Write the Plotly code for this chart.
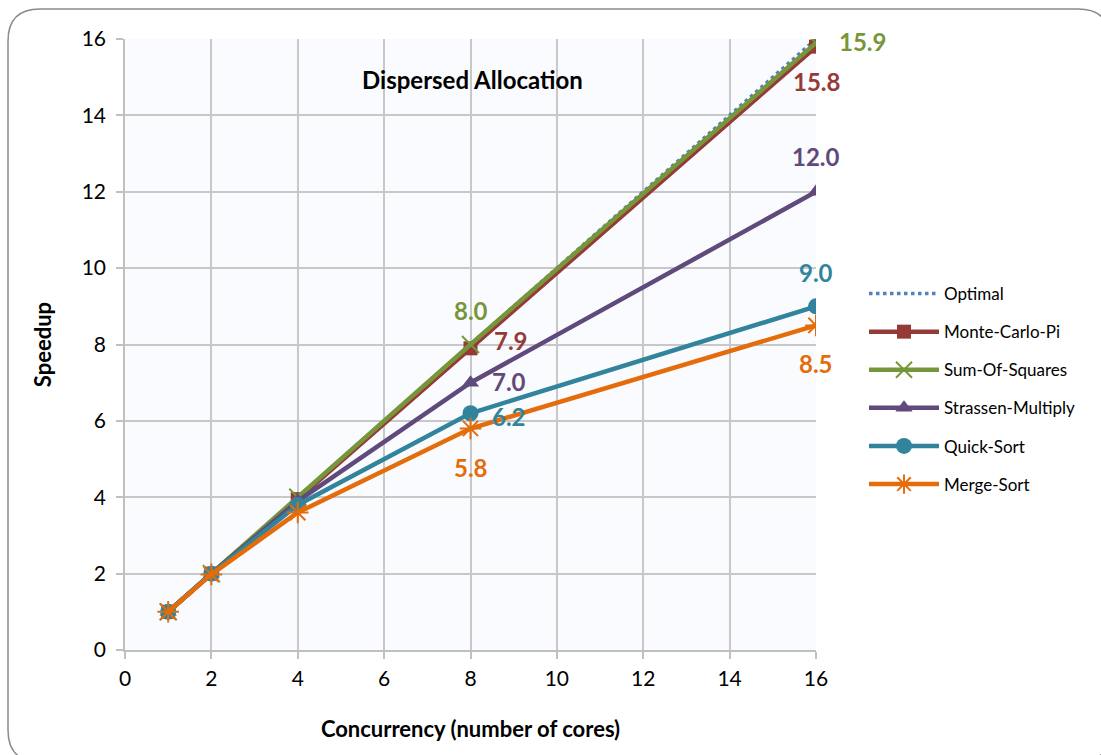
import plotly.graph_objects as go

# Core counts and measured speedups per benchmark
cores = [1, 2, 4, 8, 16]
optimal = [1, 2, 4, 8, 16]
monte_carlo_pi = [1.0, 2.0, 3.95, 7.9, 15.8]
sum_of_squares = [1.0, 2.0, 4.0, 8.0, 15.9]
strassen_multiply = [1.0, 2.0, 3.9, 7.0, 12.0]
quick_sort = [1.0, 2.0, 3.8, 6.2, 9.0]
merge_sort = [1.0, 1.98, 3.6, 5.8, 8.5]

x_ticks = [0, 2, 4, 6, 8, 10, 12, 14, 16]
y_ticks = [0, 2, 4, 6, 8, 10, 12, 14, 16]

FONT = "Lato"

series = [
    # name, values, colour, marker symbol, marker size, label offsets at x=8 and x=16
    ("Monte-Carlo-Pi", monte_carlo_pi, "#963A38", "square", 14, {8: (40, 8), 16: (0, -35)}),
    ("Sum-Of-Squares", sum_of_squares, "#76963A", "x-thin-open", 17, {8: (0, 34), 16: (46, 1)}),
    ("Strassen-Multiply", strassen_multiply, "#604A7B", "triangle-up", 15, {8: (38, 1), 16: (0, 35)}),
    ("Quick-Sort", quick_sort, "#31849B", "circle", 16, {8: (38, -3), 16: (0, 34)}),
    ("Merge-Sort", merge_sort, "#E46C0A", "asterisk-open", 18, {8: (0, -39), 16: (0, -38)}),
]

fig = go.Figure()

fig.add_trace(go.Scatter(
    x=cores, y=optimal, name="Optimal", mode="lines",
    line=dict(color="#4F81BD", width=3.5, dash="dot"),
    legendgroup="opt",
))

annotations = []
for name, vals, color, symbol, size, offsets in series:
    open_sym = symbol.endswith("open")
    fig.add_trace(go.Scatter(
        x=cores, y=vals, name=name, mode="lines+markers",
        line=dict(color=color, width=4.5),
        marker=dict(symbol=symbol, size=size, color=color,
                    line=dict(color=color, width=2 if open_sym else 0)),
        legendgroup=name,
    ))
    for xv, (dx, dy) in offsets.items():
        yv = vals[cores.index(xv)]
        annotations.append(dict(
            x=xv, y=yv, xref="x", yref="y", text=f"{yv:.1f}", showarrow=False,
            xshift=dx, yshift=dy,
            font=dict(family=FONT, size=24, color=color, weight="bold"),
        ))

annotations.append(dict(
    x=8.05, y=14.95, xref="x", yref="y", text="<b>Dispersed Allocation</b>",
    showarrow=False, font=dict(family=FONT, size=24, color="#000000"),
))

# Rounded outer frame (coordinates in paper units of the plot area)
L, R, T, B = 125, 816, 39, 650
W, H = R - L, B - T
def px(x):
    return (x - L) / W
def py(y):
    return (B - y) / H
x0, x1, y0, y1, r = 8, 1110, 9, 762, 32
path = (
    f"M {px(x0 + r)},{py(y0)} L {px(x1 - r)},{py(y0)} "
    f"Q {px(x1)},{py(y0)} {px(x1)},{py(y0 + r)} "
    f"L {px(x1)},{py(y1 - r)} Q {px(x1)},{py(y1)} {px(x1 - r)},{py(y1)} "
    f"L {px(x0 + r)},{py(y1)} Q {px(x0)},{py(y1)} {px(x0)},{py(y1 - r)} "
    f"L {px(x0)},{py(y0 + r)} Q {px(x0)},{py(y0)} {px(x0 + r)},{py(y0)} Z"
)

fig.update_layout(
    width=1101, height=755,
    margin=dict(l=L, r=1101 - R, t=T, b=755 - B),
    paper_bgcolor="white",
    plot_bgcolor="#FAFBFE",
    font=dict(family=FONT, size=21, color="#000000"),
    annotations=annotations,
    shapes=[dict(type="path", path=path, xref="paper", yref="paper",
                 line=dict(color="#8A8A8A", width=1.5), layer="below")],
    showlegend=True,
    legend=dict(
        x=px(864), y=py(276), xanchor="left", yanchor="top",
        font=dict(family=FONT, size=17, color="#000000"),
        tracegroupgap=13, itemwidth=70, bgcolor="rgba(0,0,0,0)",
    ),
    xaxis=dict(
        range=[0, 16], tickvals=x_ticks, showgrid=True, gridcolor="#C8C8C8", gridwidth=1.5,
        showline=True, linecolor="#C0C0C0", linewidth=1.5, mirror=False,
        ticks="outside", ticklen=7, tickcolor="#C0C0C0", tickwidth=1.5,
        tickfont=dict(family=FONT, size=21), zeroline=False, ticklabelstandoff=2,
        title=dict(text="<b>Concurrency (number of cores)</b>", font=dict(family=FONT, size=22), standoff=33),
    ),
    yaxis=dict(
        range=[0, 16], tickvals=y_ticks, showgrid=True, gridcolor="#C8C8C8", gridwidth=1.5,
        showline=True, linecolor="#C0C0C0", linewidth=1.5,
        ticks="outside", ticklen=7, tickcolor="#C0C0C0", tickwidth=1.5,
        tickfont=dict(family=FONT, size=21), zeroline=False, ticklabelstandoff=6,
        title=dict(text="<b>Speedup</b>", font=dict(family=FONT, size=22), standoff=24),
    ),
)

fig.write_html("out.html")
